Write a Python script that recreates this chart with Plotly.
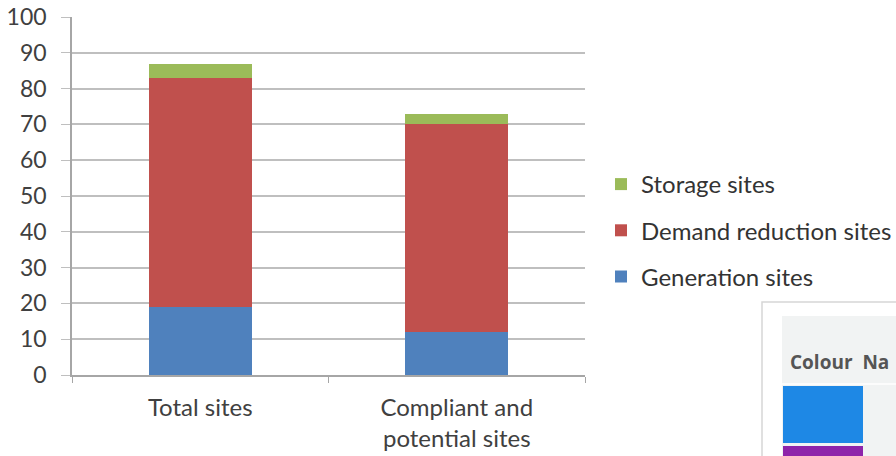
import plotly.graph_objects as go

W, H = 896, 456

categories = ["Total sites", "Compliant and<br>potential sites"]
generation = [19, 12]
demand_reduction = [64, 58]
storage = [4, 3]

# (name, values, colour, position in legend from top)
series = [
    ("Generation sites", generation, "#4f81bd", 3),
    ("Demand reduction sites", demand_reduction, "#c0504d", 2),
    ("Storage sites", storage, "#9bbb59", 1),
]

FONT = "Lato, 'Open Sans', sans-serif"
FS = 24

fig = go.Figure()
for i, (name, vals, color, rank) in enumerate(series):
    fig.add_trace(go.Bar(
        x=categories, y=vals, name=name,
        marker=dict(color=color, line=dict(width=0)),
        legendgroup=f"g{i}",
        legendrank=rank,
        width=0.4,
    ))


def px(x):
    return x / W


def py(y):
    return 1 - y / H


# Fragment of a colour/name table at the lower right
shapes = [
    dict(type="rect", xref="paper", yref="paper",
         x0=px(762), x1=px(905), y0=py(302), y1=py(470),
         line=dict(color="#d6d6d6", width=1.5), fillcolor="#ffffff", layer="above"),
    dict(type="rect", xref="paper", yref="paper",
         x0=px(782), x1=px(905), y0=py(316), y1=py(470),
         line=dict(width=0), fillcolor="#f1f3f3", layer="above"),
    dict(type="line", xref="paper", yref="paper",
         x0=px(782), x1=px(905), y0=py(384), y1=py(384),
         line=dict(color="#ffffff", width=1.5), layer="above"),
    dict(type="rect", xref="paper", yref="paper",
         x0=px(783), x1=px(863), y0=py(386), y1=py(443),
         line=dict(width=0), fillcolor="#1e88e5", layer="above"),
    dict(type="rect", xref="paper", yref="paper",
         x0=px(783), x1=px(863), y0=py(446), y1=py(470),
         line=dict(width=0), fillcolor="#8e24aa", layer="above"),
]

annotations = [
    dict(xref="paper", yref="paper", x=px(788), y=py(362),
         xanchor="left", yanchor="middle", showarrow=False,
         text="<b>Colour  Na</b>",
         font=dict(family="'Open Sans', sans-serif", size=19, color="#555555")),
]

fig.update_layout(
    width=W, height=H,
    barmode="stack",
    paper_bgcolor="white", plot_bgcolor="white",
    margin=dict(l=0, r=0, t=0, b=0, autoexpand=False),
    font=dict(family=FONT, size=FS, color="#404040"),
    showlegend=True,
    legend=dict(
        x=px(601), y=py(162), xanchor="left", yanchor="top",
        traceorder="grouped",
        tracegroupgap=12,
        font=dict(family=FONT, size=FS, color="#333333"),
        itemwidth=30,
    ),
    xaxis=dict(
        domain=[px(72), px(585)],
        automargin=False,
        showline=True, linecolor="#a6a6a6", linewidth=1.5,
        ticks="outside", tickson="boundaries", ticklen=6, tickcolor="#a6a6a6",
        showgrid=False,
        ticklabelstandoff=10,
        tickfont=dict(family=FONT, size=FS, color="#404040"),
    ),
    yaxis=dict(
        domain=[py(375), py(17)],
        automargin=False,
        range=[0, 100], dtick=10,
        showline=True, linecolor="#a6a6a6", linewidth=1.5,
        ticks="outside", ticklen=9, tickcolor="#bfbfbf",
        showgrid=True, gridcolor="#bfbfbf", gridwidth=1.5,
        zeroline=False,
        ticklabelstandoff=10,
        tickfont=dict(family=FONT, size=23, color="#404040"),
    ),
    shapes=shapes,
    annotations=annotations,
)

fig.write_html("out.html")
